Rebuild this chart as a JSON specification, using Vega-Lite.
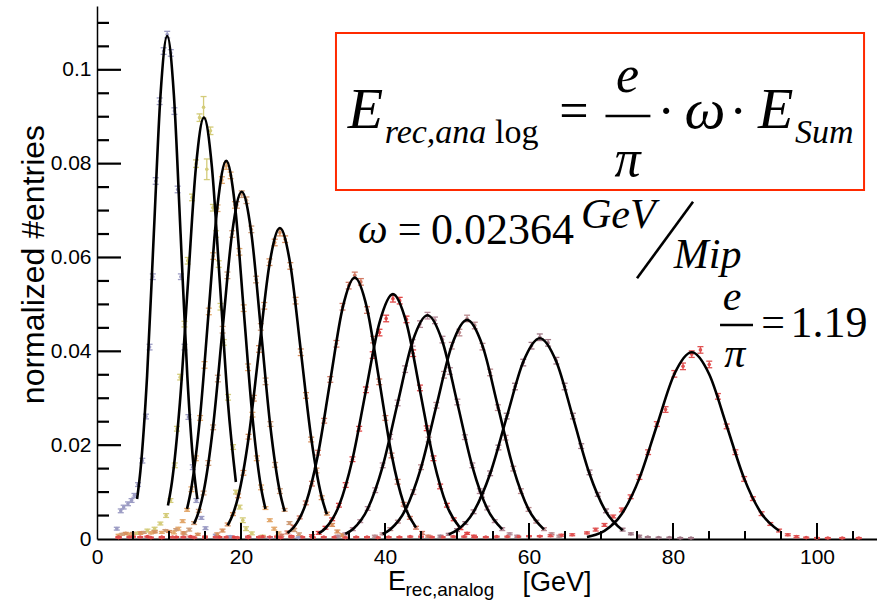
{
"$schema": "https://vega.github.io/schema/vega-lite/v6.json",
"width": 780, "height": 533,
"autosize": {"type": "none"},
"padding": {"left": 97, "top": 6, "right": 0, "bottom": 64},
"background": "white",
"config": {"view": {"stroke": null}, "font": "Liberation Sans"},
"datasets": {
"pts": [
{"h":1,"x":2.75,"y":0.0022,"e":0.0003},{"h":1,"x":3.3,"y":0.006,"e":0.0004},{"h":1,"x":3.7,"y":0.0068,"e":0.0004},{"h":1,"x":4.3,"y":0.0075,"e":0.0004},{"h":1,"x":4.8,"y":0.0082,"e":0.0004},{"h":1,"x":5.2,"y":0.0093,"e":0.0004},{"h":1,"x":5.7,"y":0.0116,"e":0.0004},{"h":1,"x":6.3,"y":0.0167,"e":0.0005},{"h":1,"x":6.8,"y":0.0261,"e":0.0005},{"h":1,"x":7.3,"y":0.0409,"e":0.0006},{"h":1,"x":7.75,"y":0.0559,"e":0.0006},{"h":1,"x":8.15,"y":0.0763,"e":0.0007},{"h":1,"x":8.7,"y":0.0933,"e":0.0007},{"h":1,"x":9.25,"y":0.104,"e":0.0007},{"h":1,"x":9.75,"y":0.1075,"e":0.0007},{"h":1,"x":10.25,"y":0.1036,"e":0.0007},{"h":1,"x":10.75,"y":0.0912,"e":0.0007},{"h":1,"x":11.2,"y":0.0745,"e":0.0007},{"h":1,"x":11.65,"y":0.0559,"e":0.0006},{"h":1,"x":12.15,"y":0.0409,"e":0.0006},{"h":1,"x":12.7,"y":0.026,"e":0.0005},{"h":1,"x":13.3,"y":0.0153,"e":0.0005},{"h":1,"x":13.8,"y":0.0082,"e":0.0004},{"h":1,"x":14.5,"y":0.0045,"e":0.0003},{"h":1,"x":15.07,"y":0.0023,"e":0.0003},{"h":1,"x":16.5,"y":0.0008,"e":0.0002},{"h":1,"x":18.5,"y":0.0005,"e":0.0002},{"h":1,"x":21,"y":0.0004,"e":0.0001},{"h":1,"x":24,"y":0.0003,"e":0.0001},{"h":1,"x":28,"y":0.0003,"e":0.0001},
{"h":2,"x":5.5,"y":0.0012,"e":0.0002},{"h":2,"x":7.0,"y":0.0018,"e":0.0003},{"h":2,"x":8.0,"y":0.0022,"e":0.0003},{"h":2,"x":8.8,"y":0.0033,"e":0.0003},{"h":2,"x":9.6,"y":0.005,"e":0.0004},{"h":2,"x":10.2,"y":0.0082,"e":0.0004},{"h":2,"x":10.8,"y":0.0157,"e":0.0005},{"h":2,"x":11.1,"y":0.0235,"e":0.0005},{"h":2,"x":11.55,"y":0.0345,"e":0.0006},{"h":2,"x":12.15,"y":0.0458,"e":0.0006},{"h":2,"x":12.6,"y":0.0593,"e":0.0007},{"h":2,"x":13.2,"y":0.0728,"e":0.0007},{"h":2,"x":13.75,"y":0.08,"e":0.0008},{"h":2,"x":14.24,"y":0.0898,"e":0.0008},{"h":2,"x":14.8,"y":0.092,"e":0.0023},{"h":2,"x":15.25,"y":0.0788,"e":0.0022},{"h":2,"x":15.76,"y":0.087,"e":0.0008},{"h":2,"x":16.1,"y":0.0706,"e":0.0007},{"h":2,"x":16.55,"y":0.065,"e":0.0007},{"h":2,"x":16.9,"y":0.0586,"e":0.0007},{"h":2,"x":17.15,"y":0.0495,"e":0.0007},{"h":2,"x":17.6,"y":0.0419,"e":0.0006},{"h":2,"x":18.2,"y":0.0302,"e":0.0006},{"h":2,"x":18.9,"y":0.0196,"e":0.0005},{"h":2,"x":19.3,"y":0.01,"e":0.0004},{"h":2,"x":19.8,"y":0.0068,"e":0.0004},{"h":2,"x":20.25,"y":0.004,"e":0.0005},{"h":2,"x":20.7,"y":0.0022,"e":0.0004},{"h":2,"x":21.5,"y":0.0012,"e":0.0003},{"h":2,"x":23,"y":0.0006,"e":0.0002},
{"h":3,"x":3,"y":0.0008,"e":0.0002},{"h":3,"x":4.5,"y":0.001,"e":0.0002},{"h":3,"x":6,"y":0.0012,"e":0.0002},{"h":3,"x":7.5,"y":0.0013,"e":0.0002},{"h":3,"x":9,"y":0.0014,"e":0.0002},
{"h":3,"x":10.69,"y":0.0014,"e":0.0003},{"h":3,"x":11.3,"y":0.0022,"e":0.0003},{"h":3,"x":11.9,"y":0.0038,"e":0.0003},{"h":3,"x":12.51,"y":0.0062,"e":0.0003},{"h":3,"x":13.11,"y":0.0106,"e":0.0005},{"h":3,"x":13.72,"y":0.0172,"e":0.0005},{"h":3,"x":14.32,"y":0.0258,"e":0.0005},{"h":3,"x":14.93,"y":0.0371,"e":0.0007},{"h":3,"x":15.53,"y":0.0485,"e":0.0007},{"h":3,"x":16.14,"y":0.0603,"e":0.0007},{"h":3,"x":16.74,"y":0.0705,"e":0.0007},{"h":3,"x":17.35,"y":0.0765,"e":0.0007},{"h":3,"x":17.95,"y":0.0795,"e":0.0007},{"h":3,"x":18.56,"y":0.0775,"e":0.0007},{"h":3,"x":19.16,"y":0.0712,"e":0.0007},{"h":3,"x":19.77,"y":0.0612,"e":0.0007},{"h":3,"x":20.37,"y":0.0492,"e":0.0007},{"h":3,"x":20.98,"y":0.0366,"e":0.0007},{"h":3,"x":21.58,"y":0.0265,"e":0.0005},{"h":3,"x":22.19,"y":0.0172,"e":0.0005},{"h":3,"x":22.79,"y":0.011,"e":0.0005},{"h":3,"x":23.4,"y":0.0066,"e":0.0003},{"h":3,"x":24.0,"y":0.004,"e":0.0003},{"h":3,"x":24.61,"y":0.0022,"e":0.0003},{"h":3,"x":25.21,"y":0.0012,"e":0.0003},
{"h":4,"x":3.5,"y":0.001,"e":0.0002},{"h":4,"x":5,"y":0.0012,"e":0.0002},{"h":4,"x":6.5,"y":0.0014,"e":0.0002},{"h":4,"x":8,"y":0.0016,"e":0.0002},{"h":4,"x":9.5,"y":0.0018,"e":0.0002},{"h":4,"x":11,"y":0.002,"e":0.0002},
{"h":4,"x":12.15,"y":0.0012,"e":0.0003},{"h":4,"x":12.81,"y":0.002,"e":0.0003},{"h":4,"x":13.48,"y":0.0034,"e":0.0003},{"h":4,"x":14.14,"y":0.006,"e":0.0003},{"h":4,"x":14.8,"y":0.0098,"e":0.0004},{"h":4,"x":15.46,"y":0.0162,"e":0.0005},{"h":4,"x":16.13,"y":0.0238,"e":0.0005},{"h":4,"x":16.79,"y":0.0342,"e":0.0007},{"h":4,"x":17.45,"y":0.0446,"e":0.0007},{"h":4,"x":18.11,"y":0.0562,"e":0.0007},{"h":4,"x":18.78,"y":0.065,"e":0.0007},{"h":4,"x":19.44,"y":0.0712,"e":0.0007},{"h":4,"x":20.1,"y":0.0735,"e":0.0007},{"h":4,"x":20.76,"y":0.0722,"e":0.0007},{"h":4,"x":21.43,"y":0.066,"e":0.0007},{"h":4,"x":22.09,"y":0.0553,"e":0.0007},{"h":4,"x":22.75,"y":0.0452,"e":0.0007},{"h":4,"x":23.41,"y":0.0336,"e":0.0007},{"h":4,"x":24.08,"y":0.0245,"e":0.0005},{"h":4,"x":24.74,"y":0.0158,"e":0.0005},{"h":4,"x":25.4,"y":0.0102,"e":0.0005},{"h":4,"x":26.06,"y":0.0062,"e":0.0003},{"h":4,"x":26.73,"y":0.0034,"e":0.0003},{"h":4,"x":27.39,"y":0.0019,"e":0.0003},{"h":4,"x":28.05,"y":0.001,"e":0.0003},
{"h":5,"x":4,"y":0.0012,"e":0.0002},{"h":5,"x":6,"y":0.0013,"e":0.0002},{"h":5,"x":8,"y":0.0015,"e":0.0002},{"h":5,"x":10,"y":0.0016,"e":0.0002},{"h":5,"x":12,"y":0.0013,"e":0.0002},{"h":5,"x":14,"y":0.001,"e":0.0002},
{"h":5,"x":16.7,"y":0.001,"e":0.0003},{"h":5,"x":17.43,"y":0.0018,"e":0.0003},{"h":5,"x":18.15,"y":0.0031,"e":0.0003},{"h":5,"x":18.88,"y":0.0053,"e":0.0003},{"h":5,"x":19.6,"y":0.0092,"e":0.0004},{"h":5,"x":20.33,"y":0.0141,"e":0.0005},{"h":5,"x":21.05,"y":0.0218,"e":0.0005},{"h":5,"x":21.78,"y":0.03,"e":0.0006},{"h":5,"x":22.5,"y":0.0405,"e":0.0007},{"h":5,"x":23.23,"y":0.0497,"e":0.0007},{"h":5,"x":23.95,"y":0.059,"e":0.0007},{"h":5,"x":24.68,"y":0.0632,"e":0.0007},{"h":5,"x":25.4,"y":0.0653,"e":0.0007},{"h":5,"x":26.13,"y":0.0639,"e":0.0007},{"h":5,"x":26.85,"y":0.0582,"e":0.0007},{"h":5,"x":27.58,"y":0.0508,"e":0.0007},{"h":5,"x":28.3,"y":0.0398,"e":0.0007},{"h":5,"x":29.03,"y":0.0306,"e":0.0006},{"h":5,"x":29.75,"y":0.0212,"e":0.0005},{"h":5,"x":30.48,"y":0.0146,"e":0.0005},{"h":5,"x":31.2,"y":0.0088,"e":0.0004},{"h":5,"x":31.93,"y":0.0054,"e":0.0003},{"h":5,"x":32.65,"y":0.003,"e":0.0003},{"h":5,"x":33.38,"y":0.0016,"e":0.0003},{"h":5,"x":34.1,"y":0.0008,"e":0.0003},
{"h":6,"x":25.6,"y":0.0008,"e":0.0002},{"h":6,"x":26.45,"y":0.0014,"e":0.0003},{"h":6,"x":27.3,"y":0.0026,"e":0.0003},{"h":6,"x":28.15,"y":0.0046,"e":0.0003},{"h":6,"x":29.0,"y":0.0077,"e":0.0004},{"h":6,"x":29.85,"y":0.0118,"e":0.0005},{"h":6,"x":30.7,"y":0.0184,"e":0.0005},{"h":6,"x":31.55,"y":0.0252,"e":0.0005},{"h":6,"x":32.4,"y":0.034,"e":0.0006},{"h":6,"x":33.25,"y":0.0416,"e":0.0007},{"h":6,"x":34.1,"y":0.0495,"e":0.0007},{"h":6,"x":34.95,"y":0.054,"e":0.0007},{"h":6,"x":35.8,"y":0.0562,"e":0.0007},{"h":6,"x":36.65,"y":0.0548,"e":0.0007},{"h":6,"x":37.5,"y":0.0488,"e":0.0007},{"h":6,"x":38.35,"y":0.0425,"e":0.0007},{"h":6,"x":39.2,"y":0.0335,"e":0.0006},{"h":6,"x":40.05,"y":0.0258,"e":0.0005},{"h":6,"x":40.9,"y":0.0178,"e":0.0005},{"h":6,"x":41.75,"y":0.0122,"e":0.0005},{"h":6,"x":42.6,"y":0.0074,"e":0.0004},{"h":6,"x":43.45,"y":0.0045,"e":0.0003},{"h":6,"x":44.3,"y":0.0024,"e":0.0003},{"h":6,"x":45.15,"y":0.0013,"e":0.0003},{"h":6,"x":46.0,"y":0.0006,"e":0.0002},
{"h":7,"x":3,"y":0.0004,"e":0.0001},{"h":7,"x":5,"y":0.0005,"e":0.0001},{"h":7,"x":7,"y":0.0005,"e":0.0001},{"h":7,"x":9,"y":0.0004,"e":0.0001},{"h":7,"x":11,"y":0.0004,"e":0.0001},{"h":7,"x":13,"y":0.0005,"e":0.0001},{"h":7,"x":15,"y":0.0005,"e":0.0001},{"h":7,"x":17,"y":0.0004,"e":0.0001},{"h":7,"x":19,"y":0.0004,"e":0.0001},{"h":7,"x":21,"y":0.0005,"e":0.0001},{"h":7,"x":23,"y":0.0005,"e":0.0001},{"h":7,"x":25,"y":0.0005,"e":0.0001},{"h":7,"x":27,"y":0.0006,"e":0.0001},
{"h":7,"x":29.85,"y":0.0007,"e":0.0002},{"h":7,"x":30.79,"y":0.0013,"e":0.0003},{"h":7,"x":31.73,"y":0.0024,"e":0.0003},{"h":7,"x":32.66,"y":0.0042,"e":0.0003},{"h":7,"x":33.6,"y":0.0072,"e":0.0004},{"h":7,"x":34.54,"y":0.0115,"e":0.0005},{"h":7,"x":35.48,"y":0.017,"e":0.0005},{"h":7,"x":36.41,"y":0.0235,"e":0.0005},{"h":7,"x":37.35,"y":0.0318,"e":0.0006},{"h":7,"x":38.29,"y":0.0392,"e":0.0007},{"h":7,"x":39.23,"y":0.044,"e":0.0007},{"h":7,"x":40.16,"y":0.047,"e":0.0007},{"h":7,"x":41.1,"y":0.0512,"e":0.0007},{"h":7,"x":42.04,"y":0.0508,"e":0.0007},{"h":7,"x":42.98,"y":0.0468,"e":0.0007},{"h":7,"x":43.91,"y":0.0396,"e":0.0007},{"h":7,"x":44.85,"y":0.0322,"e":0.0006},{"h":7,"x":45.79,"y":0.0236,"e":0.0005},{"h":7,"x":46.73,"y":0.0172,"e":0.0005},{"h":7,"x":47.66,"y":0.0112,"e":0.0005},{"h":7,"x":48.6,"y":0.0072,"e":0.0004},{"h":7,"x":49.54,"y":0.0042,"e":0.0003},{"h":7,"x":50.48,"y":0.0023,"e":0.0003},{"h":7,"x":51.41,"y":0.0012,"e":0.0002},{"h":7,"x":52.35,"y":0.0006,"e":0.0002},
{"h":8,"x":33.45,"y":0.0006,"e":0.0002},{"h":8,"x":34.49,"y":0.0011,"e":0.0002},{"h":8,"x":35.53,"y":0.0021,"e":0.0003},{"h":8,"x":36.56,"y":0.0038,"e":0.0003},{"h":8,"x":37.6,"y":0.0065,"e":0.0004},{"h":8,"x":38.64,"y":0.0104,"e":0.0005},{"h":8,"x":39.68,"y":0.0157,"e":0.0005},{"h":8,"x":40.71,"y":0.0218,"e":0.0005},{"h":8,"x":41.75,"y":0.029,"e":0.0006},{"h":8,"x":42.79,"y":0.0362,"e":0.0007},{"h":8,"x":43.83,"y":0.0418,"e":0.0007},{"h":8,"x":44.86,"y":0.0458,"e":0.0007},{"h":8,"x":45.9,"y":0.0476,"e":0.0007},{"h":8,"x":46.94,"y":0.0466,"e":0.0007},{"h":8,"x":47.98,"y":0.0425,"e":0.0007},{"h":8,"x":49.01,"y":0.0358,"e":0.0007},{"h":8,"x":50.05,"y":0.0292,"e":0.0006},{"h":8,"x":51.09,"y":0.0217,"e":0.0005},{"h":8,"x":52.13,"y":0.0157,"e":0.0005},{"h":8,"x":53.16,"y":0.0102,"e":0.0005},{"h":8,"x":54.2,"y":0.0066,"e":0.0004},{"h":8,"x":55.24,"y":0.0038,"e":0.0003},{"h":8,"x":56.28,"y":0.0021,"e":0.0003},{"h":8,"x":57.31,"y":0.0011,"e":0.0002},{"h":8,"x":58.35,"y":0.0006,"e":0.0002},
{"h":9,"x":38.59,"y":0.0006,"e":0.0002},{"h":9,"x":39.66,"y":0.0011,"e":0.0002},{"h":9,"x":40.73,"y":0.0021,"e":0.0003},{"h":9,"x":41.79,"y":0.0037,"e":0.0003},{"h":9,"x":42.86,"y":0.0064,"e":0.0004},{"h":9,"x":43.93,"y":0.01,"e":0.0005},{"h":9,"x":45.0,"y":0.0153,"e":0.0005},{"h":9,"x":46.06,"y":0.0212,"e":0.0005},{"h":9,"x":47.13,"y":0.0285,"e":0.0006},{"h":9,"x":48.2,"y":0.035,"e":0.0007},{"h":9,"x":49.27,"y":0.0412,"e":0.0007},{"h":9,"x":50.33,"y":0.044,"e":0.0007},{"h":9,"x":51.4,"y":0.047,"e":0.0007},{"h":9,"x":52.47,"y":0.0455,"e":0.0007},{"h":9,"x":53.54,"y":0.041,"e":0.0007},{"h":9,"x":54.6,"y":0.0355,"e":0.0007},{"h":9,"x":55.67,"y":0.028,"e":0.0006},{"h":9,"x":56.74,"y":0.0216,"e":0.0005},{"h":9,"x":57.81,"y":0.015,"e":0.0005},{"h":9,"x":58.87,"y":0.0102,"e":0.0005},{"h":9,"x":59.94,"y":0.0063,"e":0.0004},{"h":9,"x":61.01,"y":0.0037,"e":0.0003},{"h":9,"x":62.08,"y":0.0021,"e":0.0003},{"h":9,"x":63.14,"y":0.0011,"e":0.0002},{"h":9,"x":64.21,"y":0.0006,"e":0.0002},
{"h":10,"x":47.7,"y":0.0006,"e":0.0002},{"h":10,"x":48.85,"y":0.001,"e":0.0002},{"h":10,"x":50.0,"y":0.0019,"e":0.0003},{"h":10,"x":51.15,"y":0.0034,"e":0.0003},{"h":10,"x":52.3,"y":0.0058,"e":0.0004},{"h":10,"x":53.45,"y":0.0093,"e":0.0004},{"h":10,"x":54.6,"y":0.014,"e":0.0005},{"h":10,"x":55.75,"y":0.0195,"e":0.0005},{"h":10,"x":56.9,"y":0.0262,"e":0.0006},{"h":10,"x":58.05,"y":0.0325,"e":0.0007},{"h":10,"x":59.2,"y":0.0376,"e":0.0007},{"h":10,"x":60.35,"y":0.0412,"e":0.0007},{"h":10,"x":61.5,"y":0.043,"e":0.0007},{"h":10,"x":62.65,"y":0.0418,"e":0.0007},{"h":10,"x":63.8,"y":0.038,"e":0.0007},{"h":10,"x":64.95,"y":0.0325,"e":0.0007},{"h":10,"x":66.1,"y":0.0262,"e":0.0006},{"h":10,"x":67.25,"y":0.0198,"e":0.0005},{"h":10,"x":68.4,"y":0.0142,"e":0.0005},{"h":10,"x":69.55,"y":0.0095,"e":0.0004},{"h":10,"x":70.7,"y":0.006,"e":0.0004},{"h":10,"x":71.85,"y":0.0036,"e":0.0003},{"h":10,"x":73.0,"y":0.002,"e":0.0003},{"h":10,"x":74.15,"y":0.0011,"e":0.0002},{"h":10,"x":75.3,"y":0.0006,"e":0.0002},{"h":10,"x":76.5,"y":0.0004,"e":0.0001},{"h":10,"x":78,"y":0.0003,"e":0.0001},{"h":10,"x":79.5,"y":0.0003,"e":0.0001},{"h":10,"x":81,"y":0.0002,"e":0.0001},{"h":10,"x":82.5,"y":0.0002,"e":0.0001},
{"h":11,"x":3,"y":0.0003,"e":0.0001},{"h":11,"x":4.5,"y":0.0004,"e":0.0001},{"h":11,"x":6,"y":0.0004,"e":0.0001},{"h":11,"x":7.5,"y":0.0003,"e":0.0001},{"h":11,"x":9,"y":0.0003,"e":0.0001},{"h":11,"x":10.5,"y":0.0004,"e":0.0001},{"h":11,"x":12,"y":0.0004,"e":0.0001},{"h":11,"x":13.5,"y":0.0003,"e":0.0001},{"h":11,"x":15,"y":0.0003,"e":0.0001},{"h":11,"x":16.5,"y":0.0004,"e":0.0001},{"h":11,"x":18,"y":0.0004,"e":0.0001},{"h":11,"x":19.5,"y":0.0003,"e":0.0001},{"h":11,"x":21,"y":0.0003,"e":0.0001},{"h":11,"x":22.5,"y":0.0004,"e":0.0001},{"h":11,"x":24,"y":0.0004,"e":0.0001},{"h":11,"x":25.5,"y":0.0003,"e":0.0001},{"h":11,"x":27,"y":0.0004,"e":0.0001},{"h":11,"x":28.5,"y":0.0004,"e":0.0001},{"h":11,"x":30,"y":0.0003,"e":0.0001},{"h":11,"x":31.5,"y":0.0004,"e":0.0001},{"h":11,"x":33,"y":0.0004,"e":0.0001},{"h":11,"x":34.5,"y":0.0003,"e":0.0001},{"h":11,"x":36,"y":0.0004,"e":0.0001},{"h":11,"x":37.5,"y":0.0004,"e":0.0001},{"h":11,"x":39,"y":0.0003,"e":0.0001},{"h":11,"x":40.5,"y":0.0004,"e":0.0001},{"h":11,"x":42,"y":0.0004,"e":0.0001},{"h":11,"x":43.5,"y":0.0005,"e":0.0001},{"h":11,"x":45,"y":0.0005,"e":0.0001},{"h":11,"x":46.5,"y":0.0004,"e":0.0001},{"h":11,"x":48,"y":0.0004,"e":0.0001},{"h":11,"x":49.5,"y":0.0005,"e":0.0001},{"h":11,"x":51,"y":0.0005,"e":0.0001},{"h":11,"x":52.5,"y":0.0004,"e":0.0001},{"h":11,"x":54,"y":0.0004,"e":0.0001},{"h":11,"x":55.5,"y":0.0005,"e":0.0001},{"h":11,"x":57,"y":0.0005,"e":0.0001},{"h":11,"x":58.5,"y":0.0005,"e":0.0001},{"h":11,"x":60,"y":0.0006,"e":0.0001},{"h":11,"x":61.5,"y":0.0006,"e":0.0001},{"h":11,"x":63,"y":0.0007,"e":0.0002},{"h":11,"x":64.5,"y":0.0008,"e":0.0002},{"h":11,"x":66,"y":0.0009,"e":0.0002},
{"h":11,"x":68.05,"y":0.0013,"e":0.0002},{"h":11,"x":69.26,"y":0.002,"e":0.0003},{"h":11,"x":70.48,"y":0.003,"e":0.0003},{"h":11,"x":71.69,"y":0.0048,"e":0.0003},{"h":11,"x":72.9,"y":0.0062,"e":0.0004},{"h":11,"x":74.11,"y":0.009,"e":0.0004},{"h":11,"x":75.33,"y":0.0132,"e":0.0005},{"h":11,"x":76.54,"y":0.0185,"e":0.0005},{"h":11,"x":77.75,"y":0.0245,"e":0.0005},{"h":11,"x":78.96,"y":0.0276,"e":0.0006},{"h":11,"x":80.18,"y":0.0352,"e":0.0007},{"h":11,"x":81.39,"y":0.0368,"e":0.0007},{"h":11,"x":82.6,"y":0.0394,"e":0.0007},{"h":11,"x":83.81,"y":0.0403,"e":0.0007},{"h":11,"x":85.03,"y":0.0372,"e":0.0007},{"h":11,"x":86.24,"y":0.0304,"e":0.0006},{"h":11,"x":87.45,"y":0.024,"e":0.0005},{"h":11,"x":88.66,"y":0.0185,"e":0.0005},{"h":11,"x":89.88,"y":0.0128,"e":0.0005},{"h":11,"x":91.09,"y":0.0086,"e":0.0004},{"h":11,"x":92.3,"y":0.0054,"e":0.0004},{"h":11,"x":93.51,"y":0.0032,"e":0.0003},{"h":11,"x":94.73,"y":0.0018,"e":0.0003},{"h":11,"x":95.94,"y":0.0009,"e":0.0002},{"h":11,"x":97.15,"y":0.0005,"e":0.0002},{"h":11,"x":98.5,"y":0.0003,"e":0.0001},{"h":11,"x":100,"y":0.0002,"e":0.0001},{"h":11,"x":101.5,"y":0.0002,"e":0.0001},{"h":11,"x":103.5,"y":0.0002,"e":0.0001},{"h":11,"x":105.8,"y":0.0002,"e":0.0001}
],
"fits": [
{"c":1,"x":5.565,"y":0.00853},{"c":1,"x":6.03,"y":0.0145},{"c":1,"x":6.96,"y":0.03481},{"c":1,"x":7.89,"y":0.06502},{"c":1,"x":8.82,"y":0.0946},{"c":1,"x":9.75,"y":0.1072},{"c":1,"x":10.68,"y":0.0946},{"c":1,"x":11.61,"y":0.06502},{"c":1,"x":12.54,"y":0.03481},{"c":1,"x":13.47,"y":0.0145},{"c":1,"x":13.935,"y":0.00853},
{"c":2,"x":9.855,"y":0.00715},{"c":2,"x":10.41,"y":0.01215},{"c":2,"x":11.52,"y":0.02916},{"c":2,"x":12.63,"y":0.05446},{"c":2,"x":13.74,"y":0.07925},{"c":2,"x":14.85,"y":0.0898},{"c":2,"x":15.96,"y":0.07925},{"c":2,"x":17.07,"y":0.05446},{"c":2,"x":18.18,"y":0.02916},{"c":2,"x":19.29,"y":0.01215},
{"c":3,"x":12.505,"y":0.00642},{"c":3,"x":13.11,"y":0.01091},{"c":3,"x":14.32,"y":0.02617},{"c":3,"x":15.53,"y":0.04888},{"c":3,"x":16.74,"y":0.07113},{"c":3,"x":17.95,"y":0.0806},{"c":3,"x":19.16,"y":0.07113},{"c":3,"x":20.37,"y":0.04888},{"c":3,"x":21.58,"y":0.02617},{"c":3,"x":22.79,"y":0.01091},{"c":3,"x":23.395,"y":0.00642},
{"c":4,"x":13.475,"y":0.00325},{"c":4,"x":14.14,"y":0.00589},{"c":4,"x":14.8,"y":0.01001},{"c":4,"x":16.125,"y":0.02403},{"c":4,"x":17.45,"y":0.04488},{"c":4,"x":18.775,"y":0.06531},{"c":4,"x":20.1,"y":0.074},{"c":4,"x":21.425,"y":0.06531},{"c":4,"x":22.75,"y":0.04488},{"c":4,"x":24.075,"y":0.02403},{"c":4,"x":25.4,"y":0.01001},{"c":4,"x":26.0625,"y":0.00589},
{"c":5,"x":18.15,"y":0.00291},{"c":5,"x":18.875,"y":0.00528},{"c":5,"x":19.6,"y":0.00897},{"c":5,"x":21.05,"y":0.02153},{"c":5,"x":22.5,"y":0.04021},{"c":5,"x":23.95,"y":0.05851},{"c":5,"x":25.4,"y":0.0663},{"c":5,"x":26.85,"y":0.05851},{"c":5,"x":28.3,"y":0.04021},{"c":5,"x":29.75,"y":0.02153},{"c":5,"x":31.2,"y":0.00897},{"c":5,"x":31.925,"y":0.00528},
{"c":6,"x":26.45,"y":0.00127},{"c":6,"x":27.3,"y":0.00245},{"c":6,"x":29.0,"y":0.00754},{"c":6,"x":30.7,"y":0.01809},{"c":6,"x":32.4,"y":0.03378},{"c":6,"x":34.1,"y":0.04916},{"c":6,"x":35.8,"y":0.0557},{"c":6,"x":37.5,"y":0.04916},{"c":6,"x":39.2,"y":0.03378},{"c":6,"x":40.9,"y":0.01809},{"c":6,"x":42.6,"y":0.00754},{"c":6,"x":44.3,"y":0.00245},
{"c":7,"x":30.79,"y":0.00119},{"c":7,"x":31.725,"y":0.00229},{"c":7,"x":33.6,"y":0.00706},{"c":7,"x":35.475,"y":0.01695},{"c":7,"x":37.35,"y":0.03166},{"c":7,"x":39.225,"y":0.04607},{"c":7,"x":41.1,"y":0.0522},{"c":7,"x":42.975,"y":0.04607},{"c":7,"x":44.85,"y":0.03166},{"c":7,"x":46.725,"y":0.01695},{"c":7,"x":48.6,"y":0.00706},{"c":7,"x":50.475,"y":0.00229},
{"c":8,"x":34.49,"y":0.00109},{"c":8,"x":35.525,"y":0.00209},{"c":8,"x":37.6,"y":0.00645},{"c":8,"x":39.675,"y":0.01549},{"c":8,"x":41.75,"y":0.02893},{"c":8,"x":43.825,"y":0.0421},{"c":8,"x":45.9,"y":0.0477},{"c":8,"x":47.975,"y":0.0421},{"c":8,"x":50.05,"y":0.02893},{"c":8,"x":52.125,"y":0.01549},{"c":8,"x":54.2,"y":0.00645},{"c":8,"x":56.275,"y":0.00209},
{"c":9,"x":39.66,"y":0.00106},{"c":9,"x":40.725,"y":0.00205},{"c":9,"x":42.86,"y":0.00632},{"c":9,"x":44.995,"y":0.01516},{"c":9,"x":47.13,"y":0.02832},{"c":9,"x":49.265,"y":0.04121},{"c":9,"x":51.4,"y":0.0467},{"c":9,"x":53.535,"y":0.04121},{"c":9,"x":55.67,"y":0.02832},{"c":9,"x":57.805,"y":0.01516},{"c":9,"x":59.94,"y":0.00632},{"c":9,"x":62.075,"y":0.00205},
{"c":10,"x":48.85,"y":0.00098},{"c":10,"x":50.0,"y":0.00188},{"c":10,"x":52.3,"y":0.00579},{"c":10,"x":54.6,"y":0.0139},{"c":10,"x":56.9,"y":0.02596},{"c":10,"x":59.2,"y":0.03777},{"c":10,"x":61.5,"y":0.0428},{"c":10,"x":63.8,"y":0.03777},{"c":10,"x":66.1,"y":0.02596},{"c":10,"x":68.4,"y":0.0139},{"c":10,"x":70.7,"y":0.00579},{"c":10,"x":73.0,"y":0.00188},
{"c":11,"x":68.05,"y":0.00044},{"c":11,"x":69.26,"y":0.00091},{"c":11,"x":70.475,"y":0.00175},{"c":11,"x":72.9,"y":0.00539},{"c":11,"x":75.325,"y":0.01292},{"c":11,"x":77.75,"y":0.02414},{"c":11,"x":80.175,"y":0.03512},{"c":11,"x":82.6,"y":0.0398},{"c":11,"x":85.025,"y":0.03512},{"c":11,"x":87.45,"y":0.02414},{"c":11,"x":89.875,"y":0.01292},{"c":11,"x":92.3,"y":0.00539},{"c":11,"x":94.725,"y":0.00175}
],
"txt": [
{"g":"big","t":"E","x":34.83,"y":0.08753},{"g":"big","t":"ω","x":81.61,"y":0.08753},{"g":"big","t":"E","x":91.81,"y":0.08753},
{"g":"sub","t":"rec,ana","x":39.96,"y":0.08434},{"g":"sub","t":"Sum","x":96.94,"y":0.08434},
{"g":"subr","t":"log","x":55.28,"y":0.08434},
{"g":"op1","t":"=","x":66.25,"y":0.0876},{"g":"op1","t":"·","x":79.03,"y":0.0876},{"g":"op1","t":"·","x":89.03,"y":0.0876},
{"g":"fr1","t":"e","x":73.68,"y":0.09533},{"g":"fr1","t":"π","x":73.68,"y":0.07737},
{"g":"l2i","t":"ω","x":36.25,"y":0.06302},{"g":"l2i","t":"GeV","x":67.22,"y":0.06628},{"g":"l2i","t":"Mip","x":80.1,"y":0.05769},
{"g":"l2n","t":"0.02364","x":46.39,"y":0.06287},{"g":"l2n","t":"1.19","x":96.33,"y":0.04312},
{"g":"op2","t":"=","x":43.4,"y":0.063},{"g":"op2","t":"=","x":93.89,"y":0.04337},
{"g":"fr2","t":"e","x":88.19,"y":0.04881},{"g":"fr2","t":"π","x":88.57,"y":0.03672},
{"g":"xt","t":"E","x":40.42,"y":-0.01087},{"g":"xt","t":"[GeV]","x":59.1,"y":-0.01115},
{"g":"xts","t":"rec,analog","x":42.85,"y":-0.01215}
],
"segs": [
{"x":70.62,"x2":76.86,"y":0.09015,"y2":0.09015},
{"x":75.0,"x2":82.78,"y":0.05556,"y2":0.07189},
{"x":86.53,"x2":91.11,"y":0.04561,"y2":0.04561}
],
"box": [{"x":33.19,"x2":106.53,"y":0.10784,"y2":0.07438}],
"xmaj": [{"x":20,"y":0},{"x":40,"y":0},{"x":60,"y":0},{"x":80,"y":0},{"x":100,"y":0}],
"xmin": [{"x":5,"y":0},{"x":10,"y":0},{"x":15,"y":0},{"x":25,"y":0},{"x":30,"y":0},{"x":35,"y":0},{"x":45,"y":0},{"x":50,"y":0},{"x":55,"y":0},{"x":65,"y":0},{"x":70,"y":0},{"x":75,"y":0},{"x":85,"y":0},{"x":90,"y":0},{"x":95,"y":0},{"x":105,"y":0}],
"ymaj": [{"x":0.1,"x2":3.33,"y":0.02,"y2":0.02},{"x":0.1,"x2":3.33,"y":0.04,"y2":0.04},{"x":0.1,"x2":3.33,"y":0.06,"y2":0.06},{"x":0.1,"x2":3.33,"y":0.08,"y2":0.08},{"x":0.1,"x2":3.33,"y":0.1,"y2":0.1}],
"ymin": [{"x":0.1,"x2":1.67,"y":0.005,"y2":0.005},{"x":0.1,"x2":1.67,"y":0.01,"y2":0.01},{"x":0.1,"x2":1.67,"y":0.015,"y2":0.015},{"x":0.1,"x2":1.67,"y":0.025,"y2":0.025},{"x":0.1,"x2":1.67,"y":0.03,"y2":0.03},{"x":0.1,"x2":1.67,"y":0.035,"y2":0.035},{"x":0.1,"x2":1.67,"y":0.045,"y2":0.045},{"x":0.1,"x2":1.67,"y":0.05,"y2":0.05},{"x":0.1,"x2":1.67,"y":0.055,"y2":0.055},{"x":0.1,"x2":1.67,"y":0.065,"y2":0.065},{"x":0.1,"x2":1.67,"y":0.07,"y2":0.07},{"x":0.1,"x2":1.67,"y":0.075,"y2":0.075},{"x":0.1,"x2":1.67,"y":0.085,"y2":0.085},{"x":0.1,"x2":1.67,"y":0.09,"y2":0.09},{"x":0.1,"x2":1.67,"y":0.095,"y2":0.095},{"x":0.1,"x2":1.67,"y":0.105,"y2":0.105},{"x":0.1,"x2":1.67,"y":0.11,"y2":0.11}]
},
"encoding": {
"x": {"field":"x","type":"quantitative","scale":{"domain":[0,108.33],"nice":false,"zero":false},
 "axis":{"title":null,"values":[0,20,40,60,80,100],"grid":false,"ticks":false,
  "domainColor":"black","domainWidth":2,"format":"d",
  "labelFont":"Liberation Sans","labelFontSize":21,"labelColor":"black","labelPadding":7,"labelFlush":false,"labelOverlap":false}},
"y": {"field":"y","type":"quantitative","scale":{"domain":[0,0.1136],"nice":false,"zero":false},
 "axis":{"title":"normalized #entries","titleFont":"Liberation Sans","titleFontSize":32,"titleFontWeight":"normal","titleColor":"black",
  "titleAngle":-90,"titleX":-53.7,"titleY":258,"titleAlign":"center","titleBaseline":"alphabetic",
  "values":[0,0.02,0.04,0.06,0.08,0.1],"grid":false,"ticks":false,"domainColor":"black","domainWidth":1.5,"format":".2~f",
  "labelFont":"Liberation Sans","labelFontSize":21,"labelColor":"black","labelPadding":6,"labelFlush":false,"labelOverlap":false}}
},
"layer": [
{"data":{"name":"pts"},"mark":{"type":"errorbar","ticks":{"size":6},"thickness":1.3,"opacity":1},
 "encoding":{"yError":{"field":"e"},"color":{"field":"h","type":"nominal","legend":null,"scale":{"domain":[1,2,3,4,5,6,7,8,9,10,11],"range":["#9c9cc4","#d4cc7a","#e3a86c","#cf9d78","#d8905e","#d27a64","#e04646","#b58a98","#bb8a8e","#a07886","#e05252"]}}}},
{"data":{"name":"pts"},"mark":{"type":"circle","size":13,"opacity":1},
 "encoding":{"color":{"field":"h","type":"nominal","legend":null}}},
{"data":{"name":"fits"},"mark":{"type":"line","color":"black","strokeWidth":2.6,"interpolate":"monotone"},
 "encoding":{"detail":{"field":"c","type":"nominal"}}},
{"data":{"name":"xmaj"},"mark":{"type":"rule","color":"black","strokeWidth":2},
 "encoding":{"y2":{"datum":0.00341}}},
{"data":{"name":"xmin"},"mark":{"type":"rule","color":"black","strokeWidth":2},
 "encoding":{"y2":{"datum":0.0017}}},
{"data":{"name":"ymaj"},"mark":{"type":"rule","color":"black","strokeWidth":2.2},
 "encoding":{"x2":{"field":"x2"},"y2":{"field":"y2"}}},
{"data":{"name":"ymin"},"mark":{"type":"rule","color":"black","strokeWidth":2.2},
 "encoding":{"x2":{"field":"x2"},"y2":{"field":"y2"}}},
{"data":{"values":[{}]},"mark":{"type":"rule","color":"black","strokeWidth":1.5},
 "encoding":{"y":{"datum":0.1136},"x":{"datum":0},"x2":{"datum":108.33}}},
{"data":{"name":"box"},"mark":{"type":"rect","fillOpacity":0,"stroke":"#ff2a00","strokeWidth":2},
 "encoding":{"x2":{"field":"x2"},"y2":{"field":"y2"}}},
{"data":{"name":"segs"},"mark":{"type":"rule","color":"black","strokeWidth":2.6},
 "encoding":{"x2":{"field":"x2"},"y2":{"field":"y2"}}},
{"data":{"name":"txt"},"transform":[{"filter":"datum.g === 'big'"}],"mark":{"type":"text","font":"Liberation Serif","fontSize":58,"fontStyle":"italic","align":"left","baseline":"alphabetic","color":"black"},"encoding":{"text":{"field":"t"}}},
{"data":{"name":"txt"},"transform":[{"filter":"datum.g === 'sub'"}],"mark":{"type":"text","font":"Liberation Serif","fontSize":34,"fontStyle":"italic","align":"left","baseline":"alphabetic","color":"black"},"encoding":{"text":{"field":"t"}}},
{"data":{"name":"txt"},"transform":[{"filter":"datum.g === 'subr'"}],"mark":{"type":"text","font":"Liberation Serif","fontSize":34,"align":"left","baseline":"alphabetic","color":"black"},"encoding":{"text":{"field":"t"}}},
{"data":{"name":"txt"},"transform":[{"filter":"datum.g === 'op1'"}],"mark":{"type":"text","font":"Liberation Serif","fontSize":52,"align":"center","baseline":"alphabetic","color":"black"},"encoding":{"text":{"field":"t"}}},
{"data":{"name":"txt"},"transform":[{"filter":"datum.g === 'fr1'"}],"mark":{"type":"text","font":"Liberation Serif","fontSize":52,"fontStyle":"italic","align":"center","baseline":"alphabetic","color":"black"},"encoding":{"text":{"field":"t"}}},
{"data":{"name":"txt"},"transform":[{"filter":"datum.g === 'l2i'"}],"mark":{"type":"text","font":"Liberation Serif","fontSize":42,"fontStyle":"italic","align":"left","baseline":"alphabetic","color":"black"},"encoding":{"text":{"field":"t"}}},
{"data":{"name":"txt"},"transform":[{"filter":"datum.g === 'l2n'"}],"mark":{"type":"text","font":"Liberation Serif","fontSize":44,"align":"left","baseline":"alphabetic","color":"black"},"encoding":{"text":{"field":"t"}}},
{"data":{"name":"txt"},"transform":[{"filter":"datum.g === 'op2'"}],"mark":{"type":"text","font":"Liberation Serif","fontSize":42,"align":"center","baseline":"alphabetic","color":"black"},"encoding":{"text":{"field":"t"}}},
{"data":{"name":"txt"},"transform":[{"filter":"datum.g === 'fr2'"}],"mark":{"type":"text","font":"Liberation Serif","fontSize":42,"fontStyle":"italic","align":"center","baseline":"alphabetic","color":"black"},"encoding":{"text":{"field":"t"}}},
{"data":{"name":"txt"},"transform":[{"filter":"datum.g === 'xt'"}],"mark":{"type":"text","font":"Liberation Sans","fontSize":27,"align":"left","baseline":"alphabetic","color":"black"},"encoding":{"text":{"field":"t"}}},
{"data":{"name":"txt"},"transform":[{"filter":"datum.g === 'xts'"}],"mark":{"type":"text","font":"Liberation Sans","fontSize":19,"align":"left","baseline":"alphabetic","color":"black"},"encoding":{"text":{"field":"t"}}}
]
}
